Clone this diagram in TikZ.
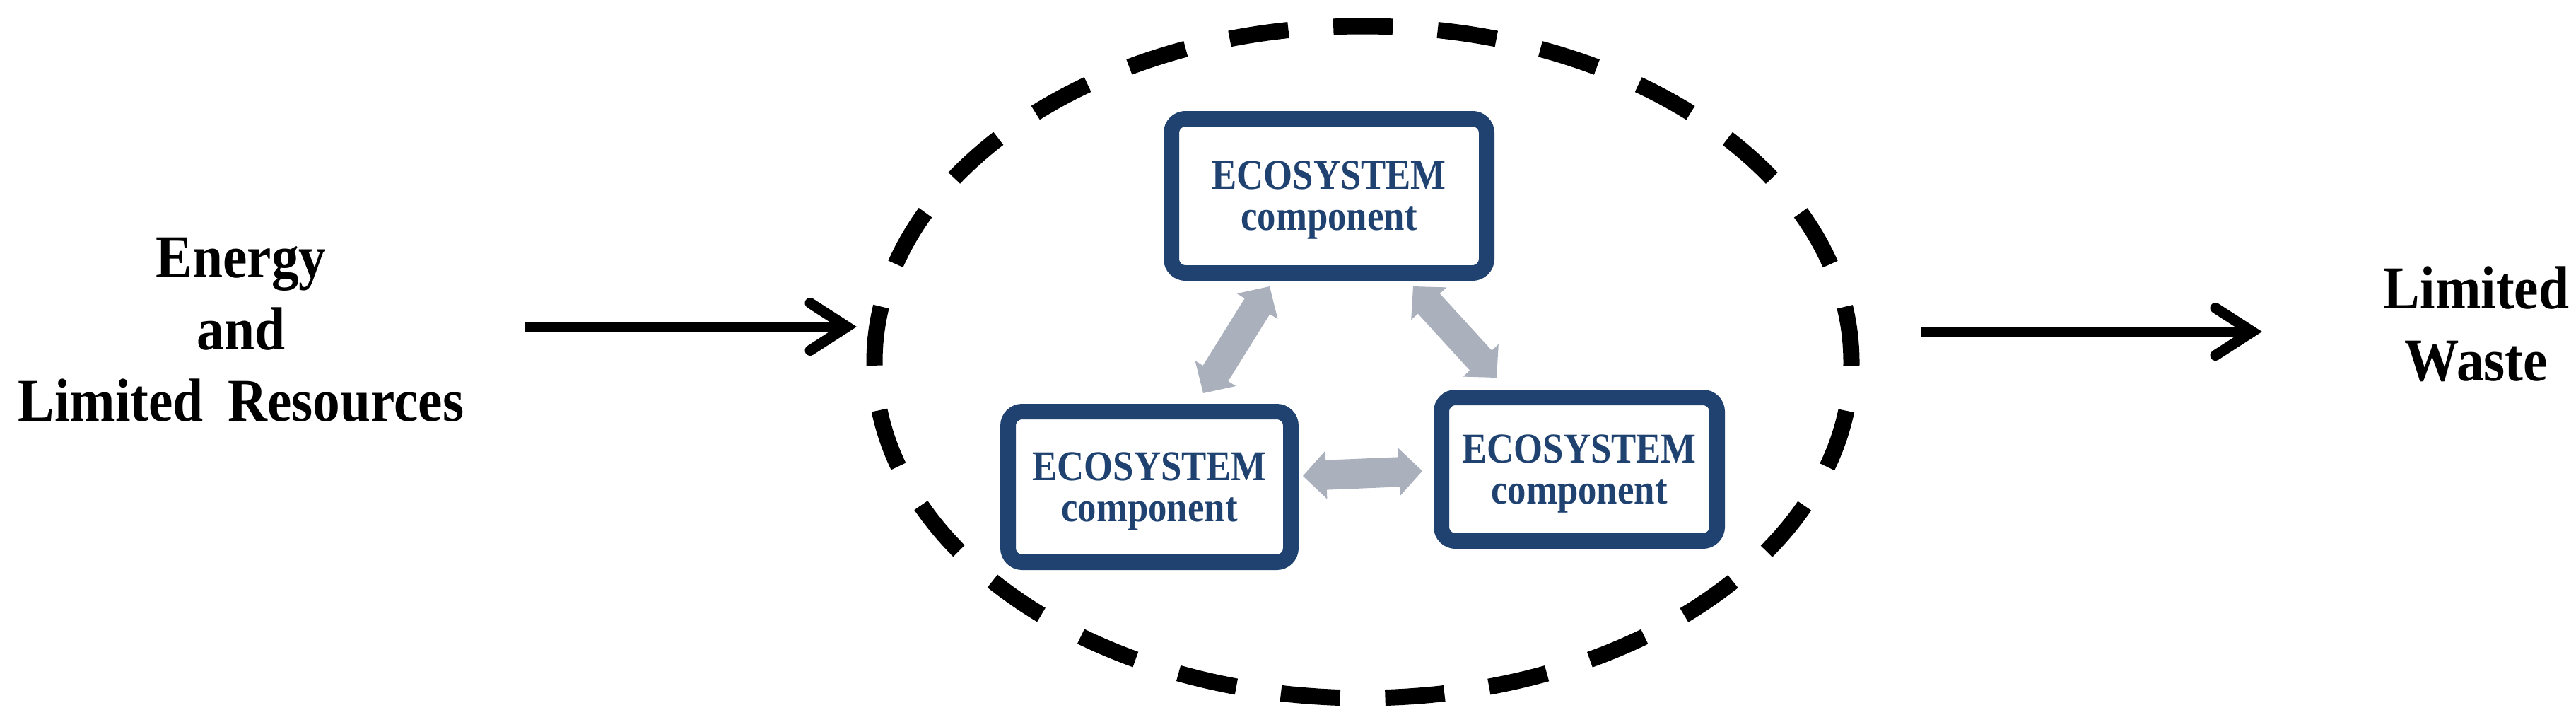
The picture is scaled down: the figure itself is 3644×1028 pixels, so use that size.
\documentclass[tikz,border=0pt]{standalone}
\usepackage{fontspec}
\usetikzlibrary{calc}
\newfontfamily\labfont[FakeStretch=0.9]{Liberation Serif}
\newfontfamily\boxfont[FakeStretch=0.88]{Liberation Serif}
\definecolor{navy}{HTML}{1F4270}
\definecolor{arrowgray}{HTML}{ABB0BD}
\tikzset{
  ecobox/.style={draw=navy, line width=5.5pt, rounded corners=5pt, text=navy,
    align=center, inner sep=0pt, text depth=0pt,
    font=\boxfont\bfseries\fontsize{15pt}{14.5pt}\selectfont},
  flowlabel/.style={align=center, inner sep=0pt,
    font=\labfont\bfseries\fontsize{21.5pt}{25.4pt}\selectfont},
  flowline/.style={line width=3.75pt},
  flowhead/.style={line width=3.75pt, line cap=round, line join=miter},
  boundary/.style={line width=5.75pt, dash pattern=on 21pt off 15.946pt, dash phase=1.266pt}
}
\newcommand\grayarrow[2]{%
  \coordinate (ga-a) at ($(#1)!8.25pt!(#2)$);
  \coordinate (ga-b) at ($(#2)!8.25pt!(#1)$);
  \fill[arrowgray] (#1) -- ($(ga-a)!8.5pt!90:(#2)$) -- ($(ga-a)!5.25pt!90:(#2)$)
    -- ($(ga-b)!5.25pt!-90:(#1)$) -- ($(ga-b)!8.5pt!-90:(#1)$) -- (#2)
    -- ($(ga-b)!8.5pt!90:(#1)$) -- ($(ga-b)!5.25pt!90:(#1)$)
    -- ($(ga-a)!5.25pt!-90:(#2)$) -- ($(ga-a)!8.5pt!-90:(#2)$) -- cycle;}
\begin{document}
\begin{tikzpicture}[x=0.25pt, y=-0.25pt]
\useasboundingbox (0,0) rectangle (3644,1028);

% dashed system boundary
\coordinate (sysc) at (1928,512);
\draw[boundary] (sysc) ellipse [x radius=172.75pt, y radius=118.75pt];

% ecosystem components
\node[ecobox, minimum width=111.5pt, minimum height=54.5pt] (top) at (1880,277) {ECOSYSTEM\\component};
\node[ecobox, minimum width=100pt, minimum height=53.25pt] (left) at (1626,688.5) {ECOSYSTEM\\component};
\node[ecobox, minimum width=97.5pt, minimum height=50.75pt] (right) at (2234,663.5) {ECOSYSTEM\\component};

% gray two-way arrows
\coordinate (g1a) at (1702,556); \coordinate (g1b) at (1796,405);
\coordinate (g2a) at (1999,405); \coordinate (g2b) at (2117,534);
\coordinate (g3a) at (1843,673); \coordinate (g3b) at (2012,666);
\grayarrow{g1a}{g1b}
\grayarrow{g2a}{g2b}
\grayarrow{g3a}{g3b}

% labels
\node[flowlabel] (inLabel) at (341,466.5) {Energy\\and\\Limited\hspace{0.4em}Resources};
\node[flowlabel] (outLabel) at (3503,458.5) {Limited\\Waste};

% input / output arrows
\coordinate (inTail) at (743,462); \coordinate (inHead) at (1198,462);
\draw[flowline] (inTail) -- (inHead);
\draw[flowhead] ($(inHead)+(-52,-33.5)$) -- (inHead) -- ($(inHead)+(-52,33.5)$);

\coordinate (outTail) at (2718,469); \coordinate (outHead) at (3186,469);
\draw[flowline] (outTail) -- (outHead);
\draw[flowhead] ($(outHead)+(-52,-33.5)$) -- (outHead) -- ($(outHead)+(-52,33.5)$);
\end{tikzpicture}
\end{document}
